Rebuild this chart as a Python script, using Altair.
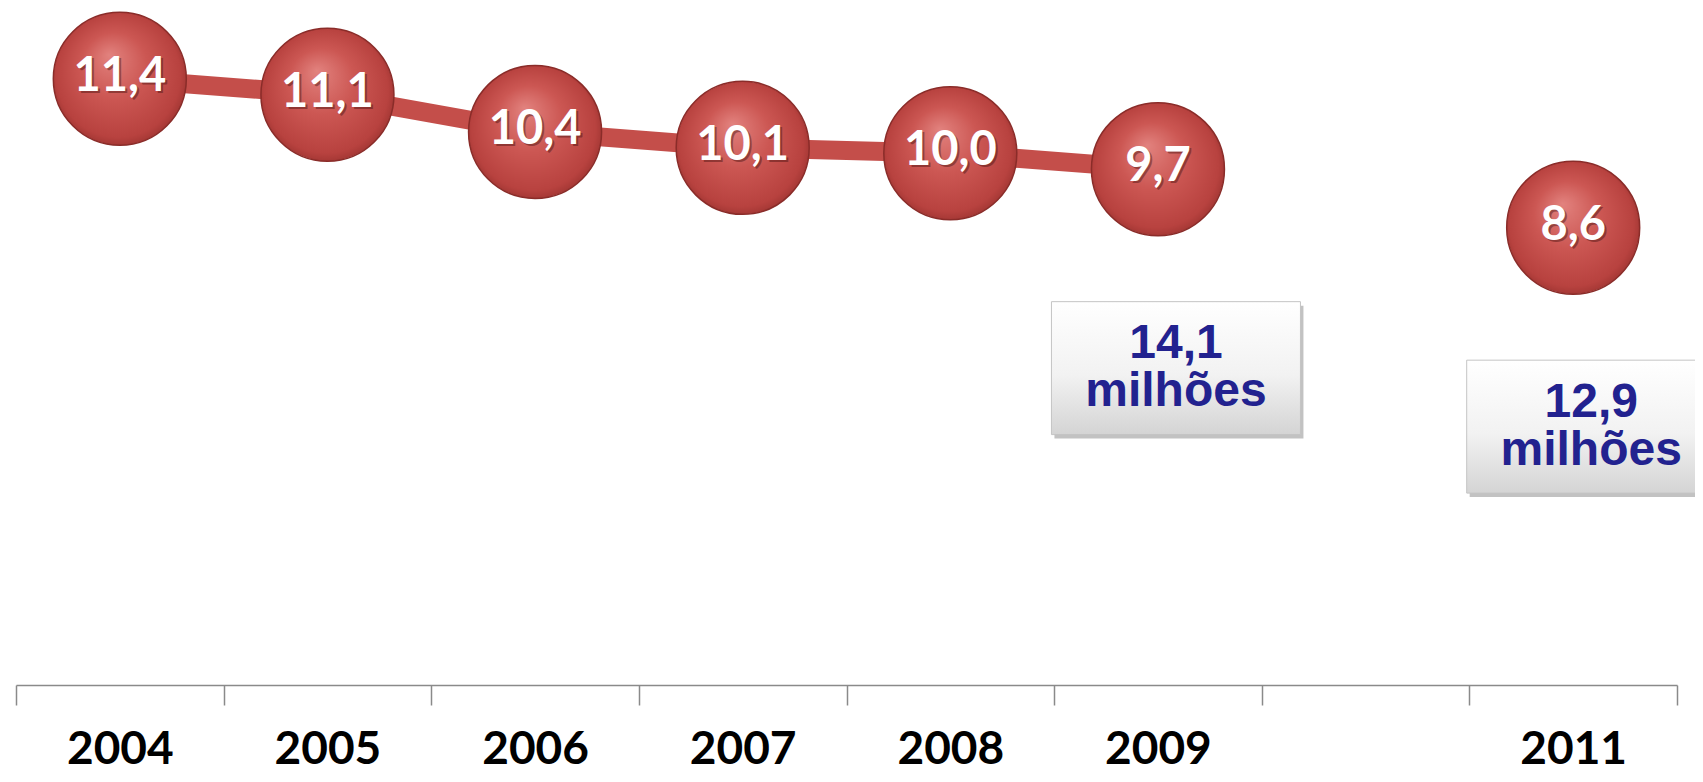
import altair as alt
import pandas as pd

# ---- data ----
all_years = ["2004", "2005", "2006", "2007", "2008", "2009", "2010", "2011"]
years = ["2004", "2005", "2006", "2007", "2008", "2009", "2011"]
rates = [11.4, 11.1, 10.4, 10.1, 10.0, 9.7, 8.6]
rate_labels = ["11,4", "11,1", "10,4", "10,1", "10,0", "9,7", "8,6"]
connected = [True, True, True, True, True, True, False]

box_years = ["2009", "2011"]
box_texts = ["14,1\nmilhões", "12,9\nmilhões"]

df = pd.DataFrame({"year": years, "rate": rates, "label": rate_labels, "connected": connected})
rate_of = dict(zip(years, rates))
boxes = pd.DataFrame({"year": box_years, "text": box_texts,
                      "rate": [rate_of[y] for y in box_years]})

# ---- encodings ----
x_enc = alt.X("year:N", scale=alt.Scale(type="band", domain=all_years, paddingInner=0, paddingOuter=0),
              axis=alt.Axis(title=None, tickBand="extent", tickSize=20, tickColor="#8a8a8a", tickWidth=1.5,
                            domainColor="#8a8a8a", domainWidth=1.5, labelAngle=0,
                            labelExpr="datum.value == '2010' ? '' : datum.value",
                            labelFont="Lato", labelFontSize=46, labelFontWeight="bold", labelColor="#000000",
                            labelBaseline="alphabetic", labelPadding=58))
y_enc = alt.Y("rate:Q", scale=alt.Scale(domain=[0, 12.73], nice=False, zero=True), axis=None)

base = alt.Chart(df).encode(x=x_enc, y=y_enc)

line = base.transform_filter("datum.connected").mark_line(color="#c44e4a", strokeWidth=19)

ball_grad = alt.RadialGradient(
    gradient="radial",
    stops=[alt.GradientStop(offset=0, color="#e2827e"),
           alt.GradientStop(offset=0.45, color="#cc5753"),
           alt.GradientStop(offset=0.85, color="#b8423f"),
           alt.GradientStop(offset=1, color="#96302d")],
    x1=0.42, y1=0.32, r1=0, x2=0.5, y2=0.5, r2=0.55)

balls = base.mark_circle(size=17689, fill=ball_grad, opacity=1, stroke="#8a2c29", strokeWidth=1.5)

label_shadow = base.mark_text(font="Lato", fontSize=47, fontWeight="bold", color="#4a1210",
                              opacity=0.45, dx=2, dy=0).encode(text="label:N")
labels = base.mark_text(font="Lato", fontSize=47, fontWeight="bold", color="#ffffff",
                        dy=-2).encode(text="label:N")

# ---- annotation boxes ----
box_path = "M-1,-0.534 L1,-0.534 L1,0.534 L-1,0.534 Z"
box_grad = alt.LinearGradient(
    gradient="linear",
    stops=[alt.GradientStop(offset=0, color="#ffffff"),
           alt.GradientStop(offset=0.55, color="#f2f2f2"),
           alt.GradientStop(offset=1, color="#d4d4d4")],
    x1=0, y1=0, x2=0, y2=1)

bbase = alt.Chart(boxes).encode(x=x_enc, y=y_enc)
box_shadow = bbase.mark_point(shape=box_path, size=62001, filled=True, fill="#8f8f8f", opacity=0.55,
                              strokeOpacity=0, xOffset=21, yOffset=203)
box = bbase.mark_point(shape=box_path, size=62001, filled=True, fill=box_grad, opacity=1,
                       stroke="#c4c4c4", strokeWidth=1, xOffset=18, yOffset=199)
box_text = bbase.mark_text(font="Liberation Sans", fontSize=48, fontWeight="bold", color="#22228f",
                           lineBreak="\n", lineHeight=48, baseline="middle", align="center",
                           dx=18, dy=175).encode(text="text:N")

chart = alt.layer(line, balls, label_shadow, labels, box_shadow, box, box_text).properties(
    width=1661, height=677,
    autosize=alt.AutoSizeParams(type="none"),
    padding={"left": 8, "top": 0, "right": 18, "bottom": 89},
).configure_view(stroke=None).configure_axis(grid=False)

chart.save("out.html", embed_options={"renderer": "svg", "actions": False})
